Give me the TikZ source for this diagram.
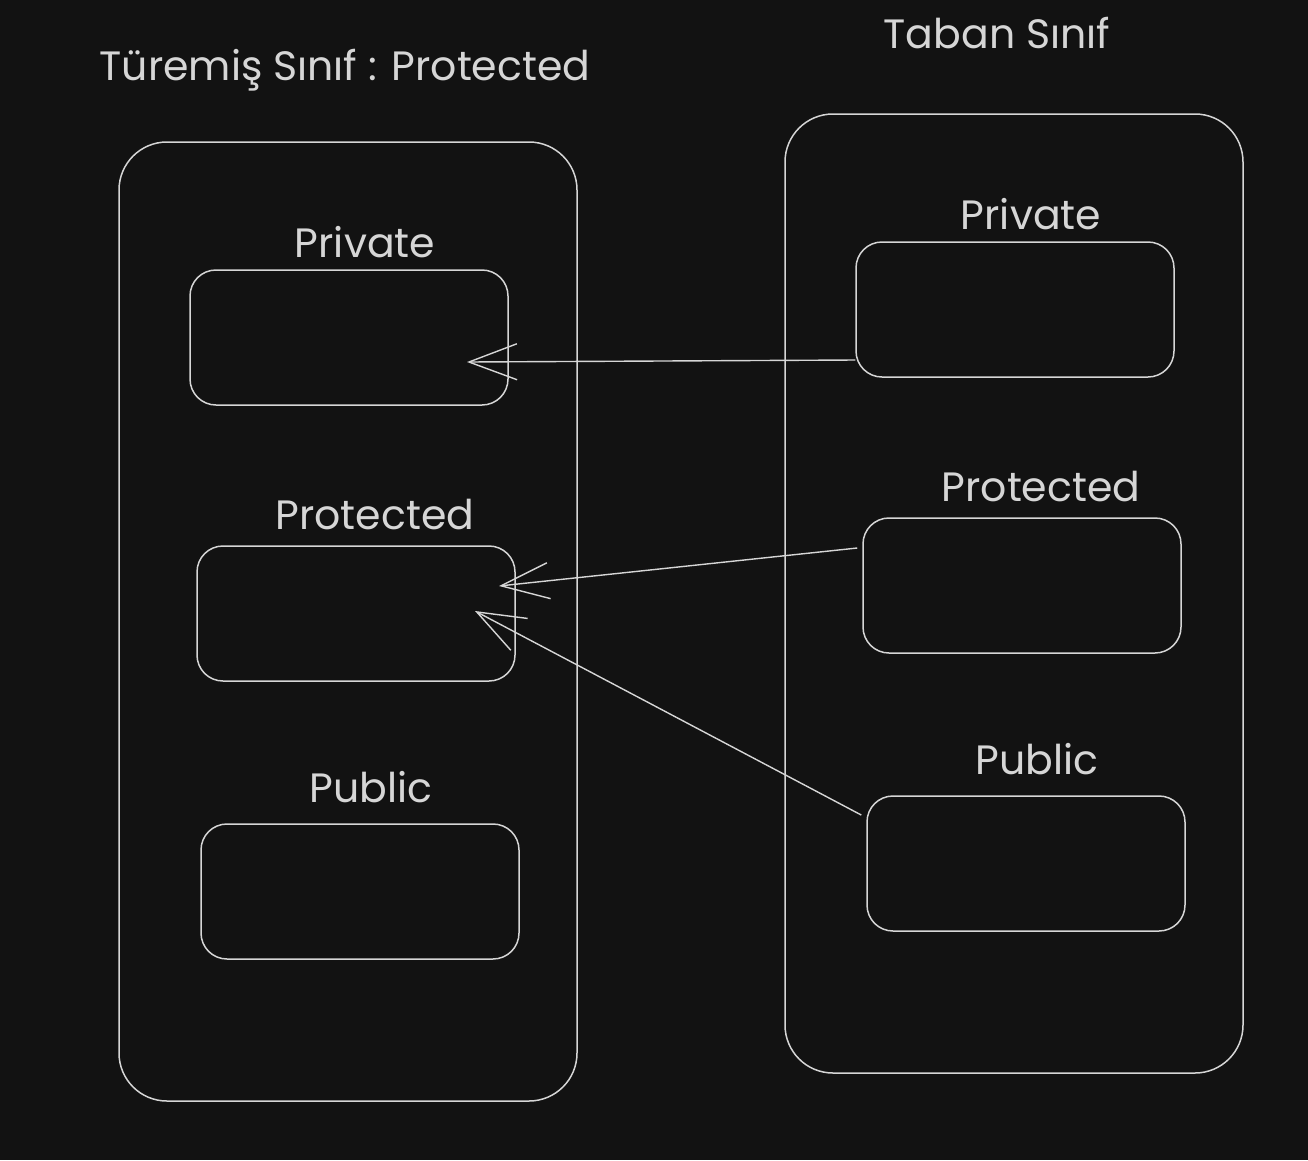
\documentclass[tikz,border=0pt]{standalone}
\usepackage{fontspec}
\setmainfont{Poppins}
\usetikzlibrary{arrows.meta}
\definecolor{bg}{HTML}{121212}
\definecolor{ink}{HTML}{D6D6D6}
\begin{document}
\begin{tikzpicture}[x=1pt,y=-1pt,
  outer/.style={draw=ink,line width=1.5pt,rounded corners=48pt},
  inner/.style={draw=ink,line width=1.5pt,rounded corners=26pt},
  lbl/.style={text=ink,anchor=base,font=\fontsize{41}{48}\selectfont,inner sep=0pt},
  arr/.style={draw=ink,line width=1.4pt,-{Straight Barb[length=48pt,width=36pt,line width=1.4pt]}}]
\fill[bg] (0,0) rectangle (1308,1160);
\useasboundingbox (0,0) rectangle (1308,1160);
% outer boxes
\draw[outer] (119,142) rectangle (577,1101);
\draw[outer] (785,114) rectangle (1243,1073);
% inner boxes
\node[inner,minimum width=318pt,minimum height=135pt] (lpriv) at (349,337.5) {};
\node[inner,minimum width=318pt,minimum height=135pt] (lprot) at (356,613.5) {};
\node[inner,minimum width=318pt,minimum height=135pt] (lpub) at (360,891.5) {};
\node[inner,minimum width=318pt,minimum height=135pt] (rpriv) at (1015,309.5) {};
\node[inner,minimum width=318pt,minimum height=135pt] (rprot) at (1022,585.5) {};
\node[inner,minimum width=318pt,minimum height=135pt] (rpub) at (1026,863.5) {};
% labels
\node[lbl] (title) at (345,80) {Türemiş Sınıf : Protected};
\node[lbl] (taban) at (997,48) {Taban Sınıf};
\node[lbl] (lprivl) at (365,257) {Private};
\node[lbl] (rprivl) at (1031,229) {Private};
\node[lbl] (lprotl) at (375,529) {Protected};
\node[lbl] (rprotl) at (1041,501) {Protected};
\node[lbl] (lpubl) at (371,802) {Public};
\node[lbl] (rpubl) at (1037,774) {Public};
% arrow tips
\coordinate (t1) at (467,362);
\coordinate (t2) at (499,586);
\coordinate (t3) at (475,611);
\draw[arr] ([yshift=-50.5pt]rpriv.west) -- (t1);
\draw[arr] ([xshift=-5pt,yshift=37.5pt]rprot.west) -- (t2);
\draw[arr] ([xshift=-5pt,yshift=48.5pt]rpub.west) -- (t3);
\end{tikzpicture}
\end{document}
